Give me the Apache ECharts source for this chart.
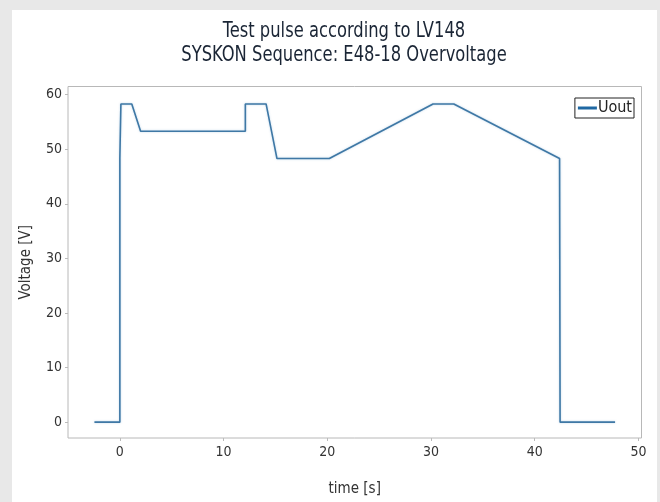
<!DOCTYPE html>
<html>
<head>
<meta charset="utf-8">
<script src="https://cdn.jsdelivr.net/npm/echarts@6/dist/echarts.min.js"></script>
<style>
html,body{margin:0;padding:0;background:#e8e8e8;}
#c{width:660px;height:502px;}
</style>
</head>
<body>
<div id="c"></div>
<script>
const timeS = [-2.45, 0, 0, 0.1, 0.1, 1.15, 2.0, 12.1, 12.1, 14.1, 15.15, 20.2, 30.2, 32.2, 42.4, 42.45, 47.75];
const uout  = [0, 0, 48.3, 48.3, 58.3, 58.3, 53.3, 53.3, 58.3, 58.3, 48.3, 48.3, 58.3, 58.3, 48.3, 0, 0];
const xTicks = [0, 10, 20, 30, 40, 50];
const yTicks = [0, 10, 20, 30, 40, 50, 60];
const titleLines = ['Test pulse according to LV148', 'SYSKON Sequence: E48-18 Overvoltage'];

const FONT = '"Liberation Sans Narrow", "DejaVu Sans Condensed", "Liberation Sans", sans-serif';
const chart = echarts.init(document.getElementById('c'), null, {renderer: 'canvas'});
const data = timeS.map((t, i) => [t, uout[i]]);

const titleGraphics = titleLines.map((line, i) => ({
  type: 'text', silent: true, z: 10,
  x: 344, y: 32 + i * 23.5, scaleX: 0.865,
  style: {
    text: line, fill: '#1a2535',
    font: 'normal 21px ' + FONT,
    textAlign: 'center', textVerticalAlign: 'middle'
  }
}));

chart.setOption({
  backgroundColor: '#e8e8e8',
  animation: false,
  graphic: [{
    type: 'rect', z: -10, silent: true,
    shape: {x: 12, y: 10, width: 645, height: 500},
    style: {fill: '#ffffff'}
  }].concat(titleGraphics),
  legend: {
    right: 26, top: 98,
    orient: 'vertical',
    backgroundColor: '#ffffff',
    borderColor: '#222', borderWidth: 1, borderRadius: 0,
    padding: [2, 2, 2, 3],
    itemWidth: 19, itemHeight: 3, itemGap: 0,
    icon: 'rect',
    textStyle: {fontFamily: FONT, fontSize: 16, color: '#222', padding: [0, 0, 0, -4]},
    data: [{name: 'Uout', itemStyle: {color: '#1f68a3'}}]
  },
  grid: {
    left: 68, right: 18.5, top: 86.5, bottom: 64,
    show: true, borderColor: '#b8b8b8', borderWidth: 1, backgroundColor: 'transparent'
  },
  xAxis: {
    type: 'value', min: -5, max: 50.3,
    name: 'time [s]', nameLocation: 'middle', nameGap: 44,
    nameTextStyle: {fontFamily: FONT, fontSize: 15, color: '#333'},
    axisLine: {show: false, onZero: false},
    axisTick: {show: true, length: 3, lineStyle: {color: '#bbb'}, customValues: xTicks},
    axisLabel: {fontFamily: FONT, fontSize: 14, color: '#333', margin: 7, customValues: xTicks},
    splitLine: {show: false}
  },
  yAxis: {
    type: 'value', min: -2.9, max: 61.5,
    name: 'Voltage [V]', nameLocation: 'middle', nameGap: 34, nameRotate: 90,
    nameTextStyle: {fontFamily: FONT, fontSize: 15, color: '#333'},
    axisLine: {show: false, onZero: false},
    axisTick: {show: true, length: 3, lineStyle: {color: '#bbb'}, customValues: yTicks},
    axisLabel: {fontFamily: FONT, fontSize: 14, color: '#333', margin: 6, customValues: yTicks},
    splitLine: {show: false}
  },
  series: [{
    name: 'Uout', type: 'line', data: data,
    symbol: 'none', showSymbol: false,
    lineStyle: {color: '#3f78a5', width: 1.6, shadowColor: 'rgba(120,170,210,0.5)', shadowBlur: 2},
    itemStyle: {color: '#1f68a3'}
  }]
});
</script>
</body>
</html>
